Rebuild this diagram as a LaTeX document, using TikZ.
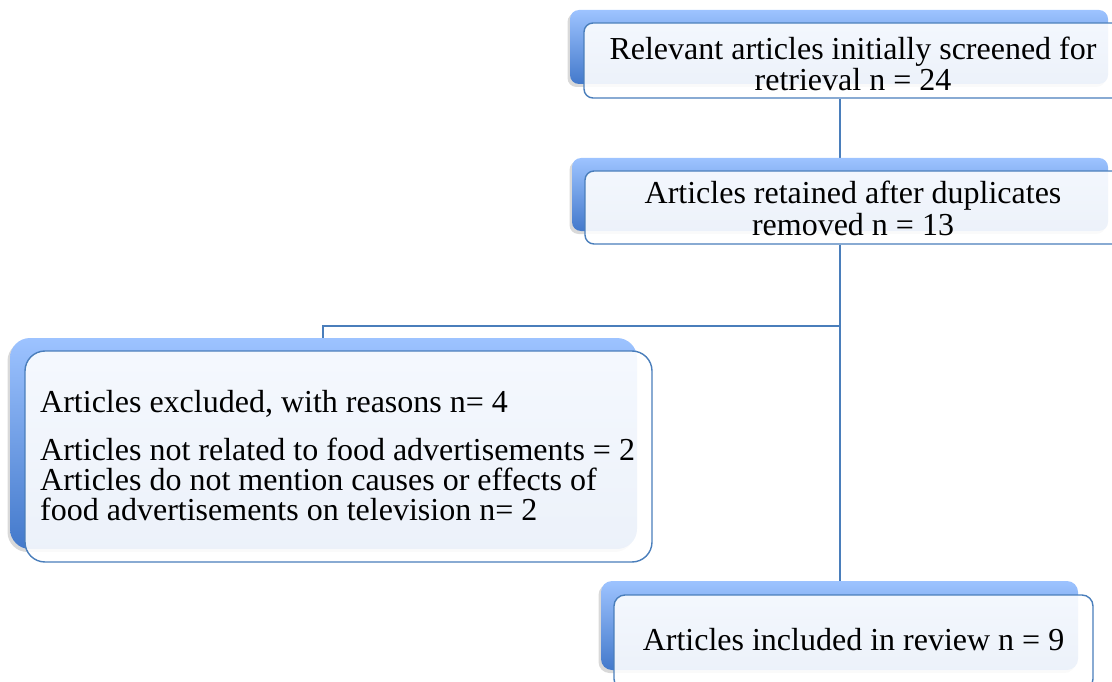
\documentclass[tikz,border=0pt]{standalone}
\usepackage{fontspec}
\setmainfont{Liberation Serif}
\usetikzlibrary{shadows}
\pgfdeclarelayer{bg}
\pgfsetlayers{bg,main}
\definecolor{edge}{HTML}{4A7EBB}
\definecolor{backtop}{HTML}{9DC3FF}
\definecolor{backbot}{HTML}{4379CB}
\tikzset{
  backbox/.style={rounded corners=#1, inner sep=0pt, top color=backtop, bottom color=backbot,
    draw=none, drop shadow={shadow xshift=-2.5pt, shadow yshift=-3pt, opacity=0.15, fill=black}},
  backbox/.default=9pt,
  frontbox/.style={rounded corners=#1, inner sep=0pt, draw=edge, line width=1.4pt,
    fill=white, fill opacity=0.9},
  frontbox/.default=9pt,
  label/.style={inner sep=0pt, font=\fontsize{32}{31}\selectfont, text=black},
  link/.style={draw=edge, line width=1.5pt},
}
\begin{document}
\begin{tikzpicture}[x=1pt,y=-1pt]
\useasboundingbox (0,0) rectangle (1112,682);
% box 1
\node[backbox, minimum width=538pt, minimum height=74pt] (k1) at (839,47) {};
\node[frontbox, minimum width=538pt, minimum height=75pt] (b1) at (853,60.5) {};
\node[label, anchor=base] (t1a) at (853,60) {Relevant articles initially screened for};
\node[label, anchor=base] (t1b) at (853,91) {retrieval n = 24};
% box 2
\node[backbox, minimum width=536pt, minimum height=73pt] (k2) at (840,194.5) {};
\node[frontbox, minimum width=536pt, minimum height=73pt] (b2) at (853,207.5) {};
\node[label, anchor=base] (t2a) at (853,204) {Articles retained after duplicates};
\node[label, anchor=base] (t2b) at (853,236) {removed n = 13};
% box 3
\node[backbox=20pt, minimum width=627pt, minimum height=211pt] (k3) at (323.5,443.5) {};
\node[frontbox=20pt, minimum width=627pt, minimum height=211pt] (b3) at (338.5,456.5) {};
\node[label, anchor=base west] (t3a) at (40,412) {Articles excluded, with reasons n= 4};
\node[label, anchor=base west] (t3b) at (40,460) {Articles not related to food advertisements = 2};
\node[label, anchor=base west] (t3c) at (40,490) {Articles do not mention causes or effects of};
\node[label, anchor=base west] (t3d) at (40,520) {food advertisements on television n= 2};
% box 4
\node[backbox=11pt, minimum width=477pt, minimum height=89pt] (k4) at (839.5,625.5) {};
\node[frontbox=11pt, minimum width=479pt, minimum height=95pt] (b4) at (853.5,642.5) {};
\node[label, anchor=base] (t4) at (853.5,650) {Articles included in review n = 9};
% connectors
\coordinate (trunk) at (840,0);
\coordinate (split) at (840,326);
\coordinate (elbow) at (323,326);
\begin{pgfonlayer}{bg}
\draw[link] (b1.south -| trunk) -- (k2.north -| trunk);
\draw[link] (b2.south -| trunk) -- (k4.north -| trunk);
\draw[link] (split) -- (elbow) -- (elbow |- k3.north);
\end{pgfonlayer}
\end{tikzpicture}
\end{document}
